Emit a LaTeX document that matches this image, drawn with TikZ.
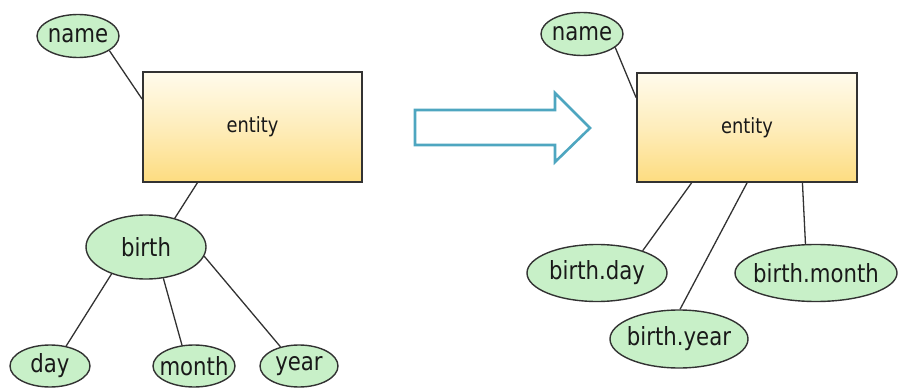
\documentclass[tikz,border=0pt]{standalone}
\usepackage{fontspec}
\setmainfont[FakeStretch=0.85]{DejaVu Sans}
\usetikzlibrary{shapes.geometric,calc}
\definecolor{attrfill}{RGB}{200,240,200}
\definecolor{edgegray}{RGB}{50,50,50}
\definecolor{enttop}{RGB}{255,251,236}
\definecolor{entbot}{RGB}{253,220,128}
\definecolor{arrowteal}{RGB}{78,166,192}
% label of fixed-size ellipse: the text box takes no width, so the
% ellipse keeps the size given by minimum width/height
\newcommand{\attrlabel}[1]{\makebox[0pt]{#1}}
\tikzset{
  attr/.style={ellipse, draw=edgegray, line width=1.4pt, fill=attrfill,
    inner sep=0pt, font=\fontsize{25}{25}\selectfont, text=black!90},
  entbox/.style={rectangle, draw=edgegray, line width=1.8pt,
    top color=enttop, bottom color=entbot, middle color=entbot!45!enttop,
    minimum width=219pt, minimum height=110pt, inner sep=0pt,
    font=\fontsize{21}{21}\selectfont, text=black!90},
  link/.style={draw=edgegray, line width=1.3pt},
  bigarrow/.style={draw=arrowteal, line width=2.6pt, fill=white, line join=miter}
}
\begin{document}
\begin{tikzpicture}[x=1pt, y=-1pt]
\useasboundingbox (0,0) rectangle (899,390);

% ---- nested attribute (left) ----
\node[entbox] (entL) at (252.5,127) {entity};
\node[attr, minimum width=82pt, minimum height=43pt] (nameL) at (78,36) {\attrlabel{name}};
\node[attr, minimum width=120pt, minimum height=64pt] (birth) at (146,247) {\attrlabel{birth}};
\node[attr, minimum width=80pt, minimum height=42pt] (day) at (50,366) {\attrlabel{day}};
\node[attr, minimum width=82pt, minimum height=42pt] (month) at (194,366) {\attrlabel{month}};
\node[attr, minimum width=78pt, minimum height=42pt] (year) at (299,366) {\attrlabel{year}};

\draw[link] (nameL.-25) -- ($(entL.north west)!0.25!(entL.south west)$);
\draw[link] ($(entL.south west)!0.25!(entL.south east)$) -- (birth.45);
\draw[link] (birth.-142) -- (day.51);
\draw[link] (birth.-61) -- (month.120);
\draw[link] (birth.-9) -- (year.134);

% ---- transformation arrow ----
\draw[bigarrow] (415,110) -- (555,110) -- (555,93) -- (590,128)
  -- (555,162) -- (555,145) -- (415,145) -- cycle;

% ---- flattened attributes (right) ----
\node[entbox, minimum width=220pt, minimum height=109pt] (entR) at (747,127.5) {entity};
\node[attr, minimum width=82pt, minimum height=43pt] (nameR) at (582,34) {\attrlabel{name}};
\node[attr, minimum width=140pt, minimum height=57pt] (bday) at (597,273) {\attrlabel{birth.day}};
\node[attr, minimum width=162pt, minimum height=57pt] (bmonth) at (816,273) {\attrlabel{birth.month}};
\node[attr, minimum width=138pt, minimum height=58pt] (byear) at (679,339) {\attrlabel{birth.year}};

\draw[link] (nameR.-22) -- ($(entR.north west)!0.23!(entR.south west)$);
\draw[link] ($(entR.south west)!0.25!(entR.south east)$) -- (bday.26);
\draw[link] ($(entR.south west)!0.5!(entR.south east)$) -- (byear.88);
\draw[link] ($(entR.south west)!0.75!(entR.south east)$) -- (bmonth.110);
\end{tikzpicture}
\end{document}
